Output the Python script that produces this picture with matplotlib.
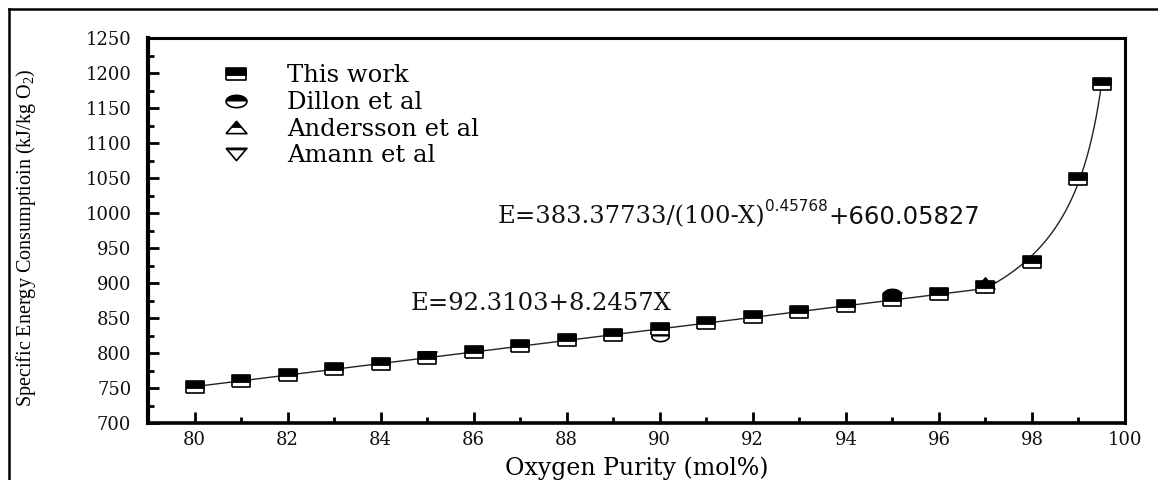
import numpy as np
import matplotlib
matplotlib.use('Agg')
import matplotlib.pyplot as plt
from matplotlib.lines import Line2D
from matplotlib.legend_handler import HandlerTuple
from matplotlib.ticker import MultipleLocator

# ---------------- data ----------------
this_x = [80, 81, 82, 83, 84, 85, 86, 87, 88, 89, 90, 91, 92, 93, 94, 95, 96, 97, 98, 99, 99.5]
this_y = [752, 760, 768, 777, 785, 793, 801, 810, 818, 826, 834, 843, 851, 859, 867, 876, 884, 894, 930, 1048, 1185]
dillon_x = [90, 95]
dillon_y = [825, 884]
andersson_x = [97]
andersson_y = [900]
amann_x = [85, 95, 97]
amann_y = [794, 878, 895]

# fitted equations shown on the chart
lin_a, lin_b = 92.3103, 8.2457
pow_a, pow_n, pow_c = 383.37733, 0.45768, 660.05827
lin_start, split_x, pow_end = 80, 97, 99.5

x_ticks = list(range(80, 101, 2))
y_ticks = list(range(700, 1251, 50))

# ---------------- style ----------------
plt.rcParams['mathtext.fontset'] = 'custom'
plt.rcParams['mathtext.rm'] = 'Liberation Serif'
plt.rcParams['mathtext.it'] = 'Liberation Serif'

fig = plt.figure(figsize=(11.58, 4.8), dpi=100)
ax = fig.add_axes([148/1158, 1-423/480, (1125-148)/1158, (423-38)/480])

# fit lines
xl = np.linspace(lin_start, split_x, 100)
xp = np.linspace(split_x, pow_end, 300)
xf = np.concatenate([xl, xp])
yf = np.concatenate([lin_a + lin_b*xl, pow_a/(100-xp)**pow_n + pow_c])
ax.plot(xf, yf, color='#222222', lw=1.0, zorder=2)

# custom stretched markers
S = 1.7
rect_full = [(-S, -1), (S, -1), (S, 1), (-S, 1), (-S, -1)]
rect_top = [(-S, -0.1), (S, -0.1), (S, 1), (-S, 1), (-S, -0.1)]
t = np.linspace(0, 2*np.pi, 80)
ell_full = list(zip(S*np.cos(t), np.sin(t)))
t2 = np.linspace(0, np.pi, 40)
ell_top = list(zip(S*np.cos(t2), np.sin(t2)))
tri_up = [(-S, -1), (S, -1), (0, 1), (-S, -1)]
tri_up_top = [(-S/2, 0), (S/2, 0), (0, 1), (-S/2, 0)]  # max abs = 1
tri_dn = [(-S, 1), (S, 1), (0, -1), (-S, 1)]
tri_dn_band = [(-0.875*S, 0.75), (0.875*S, 0.75), (S, 1), (-S, 1), (-0.875*S, 0.75)]


def draw(x, y, full, top, ms, top_scale=1.0, z=3, mew=1.2):
    ax.plot(x, y, ls='none', marker=full, ms=ms, mfc='white', mec='black', mew=mew, zorder=z)
    ax.plot(x, y, ls='none', marker=top, ms=ms*top_scale, mfc='black', mec='black', mew=0.6, zorder=z+0.1)


MS = 13.5
draw(amann_x, amann_y, tri_dn, tri_dn_band, MS, z=3)
draw(andersson_x, andersson_y, tri_up, tri_up_top, MS, top_scale=1/S, z=3.5)
draw(dillon_x, dillon_y, ell_full, ell_top, 12.5, z=4)
draw(this_x, this_y, rect_full, rect_top, MS, z=5)

# axes
ax.set_xlim(79, 100)
ax.set_ylim(700, 1250)
ax.set_xticks(x_ticks)
ax.set_yticks(y_ticks)
ax.xaxis.set_minor_locator(MultipleLocator(1))
ax.yaxis.set_minor_locator(MultipleLocator(25))
ax.tick_params(which='both', direction='in', top=False, right=False, width=2)
ax.tick_params(which='major', length=8)
ax.tick_params(which='minor', length=4)
ax.tick_params(axis='y', which='major', pad=12)
ax.tick_params(axis='x', which='major', pad=6)
for lab in ax.get_xticklabels() + ax.get_yticklabels():
    lab.set_family('DejaVu Serif')
    lab.set_fontsize(13)
    lab.set_color('#111111')
for s in ax.spines.values():
    s.set_linewidth(2.2)
ax.spines['left'].set_linewidth(3)
ax.spines['bottom'].set_linewidth(2.6)

ax.set_ylabel('Specific Energy Consumptioin (kJ/kg O$_2$)', family='Liberation Serif', fontsize=14.5)
ax.yaxis.set_label_coords((38-148)/977, (423-238)/385)
ax.set_xlabel('Oxygen Purity (mol%)', family='DejaVu Serif', fontsize=17)
ax.xaxis.set_label_coords(0.5005, (423-468)/385)
ax.xaxis.label.set_va('center')

# equations
t1 = ax.text(86.52, 994, 'E=383.37733/(100-X)', family='DejaVu Serif', fontsize=17.5,
             va='center', ha='left', color='#111111')
t2 = ax.annotate('0.45768', xy=(1, 0.62), xycoords=t1, family='DejaVu Sans', fontsize=11,
                 va='bottom', ha='left', color='#111111')
t3 = ax.annotate('+660.05827', xy=(1, 0.5), xycoords=(t2, t1), family='DejaVu Sans', fontsize=17.5,
                 va='center', ha='left', color='#111111')
ax.text(84.65, 871, 'E=92.3103+8.2457X', family='DejaVu Serif', fontsize=17.5,
        va='center', ha='left', color='#111111')

# legend
LMS = 15


def proxy(full, top, ms, top_scale=1.0):
    a = Line2D([], [], ls='none', marker=full, ms=ms, mfc='white', mec='black', mew=1.2)
    b = Line2D([], [], ls='none', marker=top, ms=ms*top_scale, mfc='black', mec='black', mew=0.6)
    return (a, b)


handles = [proxy(rect_full, rect_top, LMS), proxy(ell_full, ell_top, LMS),
           proxy(tri_up, tri_up_top, LMS, 1/S), proxy(tri_dn, tri_dn_band, LMS)]
labels = ['This work', 'Dillon et al', 'Andersson et al', 'Amann et al']
leg = ax.legend(handles, labels, handler_map={tuple: HandlerTuple(ndivide=1)},
                loc='upper left', bbox_to_anchor=(0.058, 0.963), frameon=False,
                prop={'family': 'DejaVu Serif', 'size': 17.5}, labelspacing=0.15,
                handletextpad=1.3, handlelength=1.6, borderpad=0)

# figure frame lines (top and left)
fig.add_artist(Line2D([9/1158, 1], [1-8.5/480, 1-8.5/480], transform=fig.transFigure, color='black', lw=1.8))
fig.add_artist(Line2D([9/1158, 9/1158], [0, 1-8.5/480], transform=fig.transFigure, color='black', lw=1.8))

fig.savefig('out.png', dpi=100)
